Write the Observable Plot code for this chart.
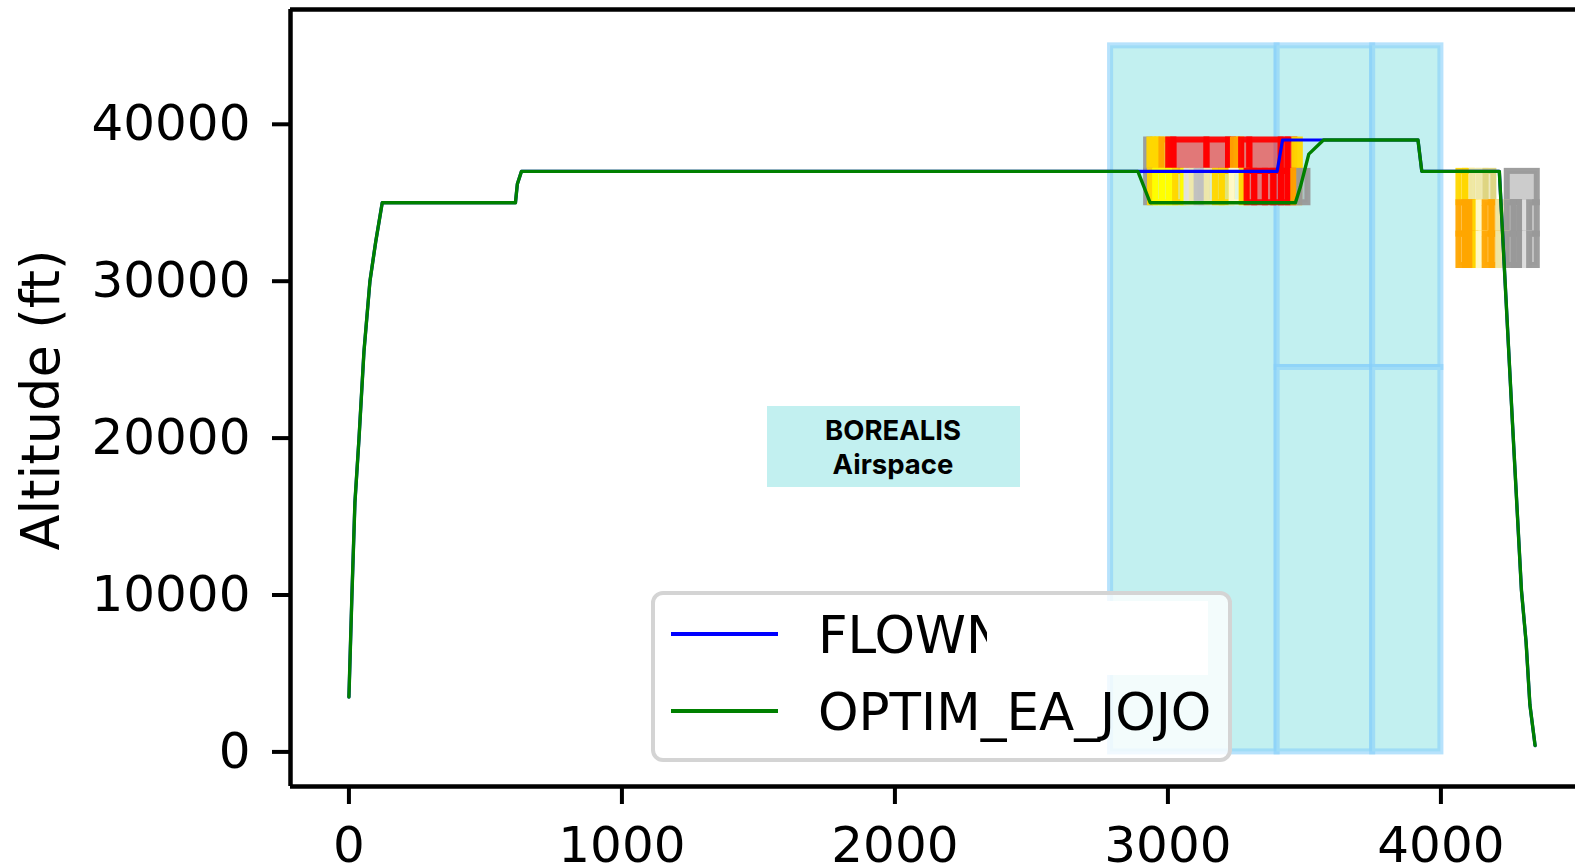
<!DOCTYPE html>
<html>
<head>
<meta charset="utf-8">
<script src="https://cdn.jsdelivr.net/npm/d3@7"></script>
<script src="https://cdn.jsdelivr.net/npm/@observablehq/plot@0.6"></script>
<style>
  html, body { margin: 0; padding: 0; background: #fff; overflow: hidden; }
  #wrap { position: relative; width: 1575px; height: 867px; }
  #wrap > svg { position: absolute; left: 0; top: 0; }
</style>
</head>
<body>
<div id="wrap"></div>
<script>
// ---------- data ----------
const xTicks = [0, 1000, 2000, 3000, 4000];
const yTicks = [0, 10000, 20000, 30000, 40000];
const xDomain = [-214, 4493];
const yDomain = [-2205, 47317];

// optimised trajectory (OPTIM_EA_JOJO)
const optimX = [0, 11, 22, 37, 55, 77, 98, 122, 610, 617, 632, 2890, 2935, 3467, 3485, 3516, 3570, 3916, 3930, 4214, 4232, 4262, 4295, 4312, 4326, 4345];
const optimY = [3500, 10000, 15900, 20000, 25500, 30000, 32500, 35000, 35000, 36200, 37000, 37000, 35000, 35000, 36000, 38100, 39000, 39000, 37000, 37000, 31000, 21000, 10300, 7000, 3000, 400];

// flown trajectory (FLOWN)
const flownX = [0, 11, 22, 37, 55, 77, 98, 122, 610, 617, 632, 2890, 3400, 3420, 3570, 3916, 3930, 4214, 4232, 4262, 4295, 4312, 4326, 4345];
const flownY = [3500, 10000, 15900, 20000, 25500, 30000, 32500, 35000, 35000, 36200, 37000, 37000, 37000, 39000, 39000, 39000, 37000, 37000, 31000, 21000, 10300, 7000, 3000, 400];

// airspace sectors
const sectorX1 = [2790, 3400, 3400, 3750, 3750];
const sectorX2 = [3400, 3750, 3750, 4000, 4000];
const sectorY1 = [0, 24500, 0, 24500, 0];
const sectorY2 = [45000, 45000, 24500, 45000, 24500];

// risk cells: [x start, x end, category], each band is 2000 ft tall
const bandHeight = 2000;
const riskCats = ["gray", "gold", "yellow", "orange", "red", "khaki", "khaki2", "cream", "silver", "lightgray"];
const riskColors = ["#999999", "#ffd700", "#ffff00", "#ffa500", "#ff0000", "#eee8aa", "#ddd480", "#fffacd", "#c0c0c0", "#e0e0e0"];

const cells37000 = [
  [2922, 2934, "gray"], [2934, 2948, "gold"], [2948, 2963, "gold"], [2963, 2978, "gold"], [2978, 3003, "orange"],
  [3003, 3022, "red"], [3022, 3143, "red"], [3143, 3222, "red"], [3222, 3240, "red"],
  [3240, 3255, "orange"], [3255, 3270, "orange"], [3270, 3300, "red"], [3300, 3415, "red"], [3415, 3440, "red"],
  [3440, 3465, "red"], [3465, 3485, "gold"]
];
const cells35000 = [
  [2922, 2936, "gray"], [2936, 2955, "gold"], [2955, 2980, "yellow"], [2980, 3005, "yellow"],
  [3005, 3028, "yellow"], [3028, 3058, "gold"], [3058, 3070, "yellow"], [3070, 3089, "lightgray"],
  [3089, 3107, "khaki"], [3107, 3125, "silver"], [3125, 3144, "silver"], [3144, 3174, "khaki"],
  [3174, 3199, "gold"], [3199, 3235, "gold"], [3235, 3272, "cream"], [3272, 3290, "gold"],
  [3290, 3318, "red"], [3318, 3357, "red"], [3357, 3388, "red"], [3388, 3416, "red"],
  [3416, 3440, "red"], [3440, 3461, "red"], [3461, 3483, "orange"], [3483, 3513, "gray"],
  [4066, 4090, "gold"], [4090, 4115, "gold"], [4115, 4140, "khaki"], [4140, 4165, "khaki"], [4165, 4194, "khaki2"],
  [4243, 4353, "gray"]
];
const cells33000 = [
  [4066, 4090, "orange"], [4090, 4112, "orange"], [4112, 4128, "orange"], [4128, 4140, "gold"], [4140, 4162, "cream"],
  [4162, 4187, "orange"], [4187, 4212, "orange"], [4212, 4243, "khaki"], [4243, 4268, "gray"],
  [4268, 4290, "gray"], [4290, 4310, "gray"], [4310, 4325, "lightgray"], [4325, 4353, "gray"]
];
const cells31000 = [
  [4066, 4090, "orange"], [4090, 4112, "orange"], [4112, 4128, "orange"], [4128, 4140, "gold"], [4140, 4162, "cream"],
  [4162, 4187, "orange"], [4187, 4212, "orange"], [4212, 4243, "khaki"], [4243, 4268, "gray"],
  [4268, 4290, "gray"], [4290, 4310, "gray"], [4310, 4325, "lightgray"], [4325, 4353, "gray"]
];

const seriesNames = ["FLOWN", "OPTIM_EA_JOJO"];
const seriesColors = ["#0000ff", "#008000"];
const annotationLines = ["BOREALIS", "Airspace"];

// ---------- tables ----------
const optim = optimX.map((x, i) => ({x, y: optimY[i]}));
const flown = flownX.map((x, i) => ({x, y: flownY[i]}));
const sectors = sectorX1.map((x1, i) => ({x1, x2: sectorX2[i], y1: sectorY1[i], y2: sectorY2[i]}));
const cells = [];
for (const [lo, arr] of [[37000, cells37000], [35000, cells35000], [33000, cells33000], [31000, cells31000]]) {
  for (const [x1, x2, cat] of arr) cells.push({x1, x2, y1: lo, y2: lo + bandHeight, cat});
}

// ---------- plot ----------
const chart = Plot.plot({
  width: 1575,
  height: 867,
  marginLeft: 290,
  marginRight: 0,
  marginTop: 9,
  marginBottom: 81,
  style: {fontFamily: "'DejaVu Sans', sans-serif", color: "black", background: "transparent", overflow: "visible"},
  x: {domain: xDomain},
  y: {domain: yDomain},
  color: {domain: riskCats, range: riskColors},
  marks: [
    Plot.rect(sectors, {x1: "x1", x2: "x2", y1: "y1", y2: "y2", fill: "#c2f0f0", stroke: "#87cefa", strokeOpacity: 0.6, strokeWidth: 6}),
    Plot.rect(cells, {x1: "x1", x2: "x2", y1: "y1", y2: "y2", fill: "cat", stroke: "cat", fillOpacity: 0.5, strokeOpacity: 0.95, strokeWidth: 6}),
    Plot.line(flown, {x: "x", y: "y", stroke: seriesColors[0], strokeWidth: 3.2}),
    Plot.line(optim, {x: "x", y: "y", stroke: seriesColors[1], strokeWidth: 3.4}),
    Plot.axisX({ticks: xTicks, tickFormat: d => String(d), tickSize: 18, tickPadding: 22, fontSize: 50, strokeWidth: 4, label: null}),
    Plot.axisY({ticks: yTicks, tickFormat: d => String(d), tickSize: 18, tickPadding: 22, fontSize: 50, strokeWidth: 4, label: null}),
    Plot.ruleX([xDomain[0]], {stroke: "black", strokeWidth: 4.5}),
    Plot.ruleY(yDomain, {stroke: "black", strokeWidth: 4.5}),
    Plot.text(["Altitude (ft)"], {frameAnchor: "left", textAnchor: "middle", rotate: -90, dx: -248, dy: 2, fontSize: 52.5, fill: "black"})
  ]
});
document.getElementById("wrap").appendChild(chart);

// ---------- legend and annotation overlay ----------
const ov = d3.select("#wrap").append("svg")
  .attr("width", 1575).attr("height", 867)
  .style("pointer-events", "none");

// BOREALIS annotation
ov.append("rect").attr("x", 767).attr("y", 406).attr("width", 253).attr("height", 81).attr("fill", "#c2f0f0");
ov.selectAll("text.ann").data(annotationLines).join("text")
  .attr("class", "ann")
  .attr("x", 893).attr("y", (d, i) => 440 + i * 34)
  .attr("text-anchor", "middle")
  .attr("font-family", "Inter, 'Liberation Sans', sans-serif")
  .attr("font-weight", 700)
  .attr("font-size", 27.5)
  .attr("fill", "#000")
  .text(d => d);

// legend
const lg = ov.append("g");
lg.append("rect").attr("x", 653).attr("y", 593).attr("width", 577).attr("height", 167)
  .attr("rx", 10).attr("fill", "#fff").attr("fill-opacity", 0.8)
  .attr("stroke", "#d4d4d4").attr("stroke-width", 4);
seriesNames.forEach((name, i) => {
  const cy = 634 + i * 77;
  lg.append("line").attr("x1", 671).attr("x2", 778).attr("y1", cy).attr("y2", cy)
    .attr("stroke", seriesColors[i]).attr("stroke-width", 4);
  lg.append("text").attr("x", 818).attr("y", cy + 19)
    .attr("font-family", "'DejaVu Sans', sans-serif").attr("font-size", 51.5).attr("fill", "#000")
    .text(name);
});
// opaque patch that hides part of the first legend label
lg.append("rect").attr("x", 987).attr("y", 601).attr("width", 221).attr("height", 74).attr("fill", "#fff");
</script>
</body>
</html>
